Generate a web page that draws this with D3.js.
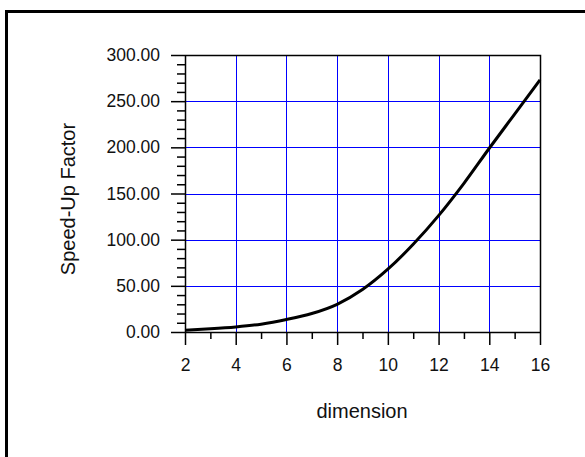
<!DOCTYPE html>
<html>
<head>
<meta charset="utf-8">
<script src="https://cdn.jsdelivr.net/npm/d3@7"></script>
<style>
  body { margin: 0; background: #fff; }
  svg { display: block; }
</style>
</head>
<body>
<svg id="chart" width="585" height="457"></svg>
<script>
// values
const dims = [2, 3, 4, 5, 6, 7, 8, 9, 10, 11, 12, 13, 14, 15, 16];
const speedUp = [2, 3.5, 5.5, 8.5, 13.5, 20, 30, 46, 68, 95, 126, 161, 199, 236, 273];
const xTicks = [2, 4, 6, 8, 10, 12, 14, 16];
const yTicks = [0, 50, 100, 150, 200, 250, 300];

const margin = { left: 185, top: 55, right: 540, bottom: 332 };

const svg = d3.select('#chart')
    .style('font-family', '"Liberation Sans", Arial, sans-serif');

// outer frame, runs off the right and bottom edges
svg.append('rect')
    .attr('x', 6.5).attr('y', 11.5)
    .attr('width', 700).attr('height', 600)
    .attr('fill', 'none')
    .attr('stroke', '#000')
    .attr('stroke-width', 3);

const x = d3.scaleLinear().domain([2, 16]).range([margin.left, margin.right]);
const y = d3.scaleLinear().domain([0, 300]).range([margin.bottom, margin.top]);

// grid
const grid = svg.append('g').attr('stroke', '#0000ff').attr('stroke-width', 1);
grid.selectAll('line.v')
    .data(xTicks.slice(1, -1))
    .join('line')
    .attr('class', 'v')
    .attr('x1', d => Math.round(x(d)) + 0.5).attr('x2', d => Math.round(x(d)) + 0.5)
    .attr('y1', margin.top).attr('y2', margin.bottom);
grid.selectAll('line.h')
    .data(yTicks.slice(1, -1))
    .join('line')
    .attr('class', 'h')
    .attr('y1', d => Math.round(y(d)) + 0.5).attr('y2', d => Math.round(y(d)) + 0.5)
    .attr('x1', margin.left).attr('x2', margin.right);

// frame of plot (top + right)
svg.append('path')
    .attr('d', `M${margin.left},${margin.top + 0.5}H${margin.right + 0.5}V${margin.bottom}`)
    .attr('fill', 'none')
    .attr('stroke', '#000')
    .attr('stroke-width', 1.5);

// minor ticks
const yMinor = d3.range(0, 301, 10).filter(v => v % 50 !== 0);
const xMinor = d3.range(3, 16, 2);

svg.append('g')
    .attr('transform', `translate(${margin.left},0)`)
    .call(d3.axisLeft(y).tickValues(yMinor).tickSize(8).tickFormat(''))
    .call(g => g.select('.domain').remove())
    .selectAll('line').attr('stroke-width', 1.5);

svg.append('g')
    .attr('transform', `translate(0,${margin.bottom})`)
    .call(d3.axisBottom(x).tickValues(xMinor).tickSize(7).tickFormat(''))
    .call(g => g.select('.domain').remove())
    .selectAll('line').attr('stroke-width', 1.5);

// major axes
const yAxis = svg.append('g')
    .attr('transform', `translate(${margin.left},0)`)
    .call(d3.axisLeft(y).tickValues(yTicks).tickSize(14).tickSizeOuter(0)
        .tickPadding(11).tickFormat(d3.format('.2f')));
yAxis.select('.domain').attr('stroke-width', 1.5);
yAxis.selectAll('line').attr('stroke-width', 1.5);
yAxis.selectAll('text').attr('font-size', 17.5).attr('fill', '#111');

const xAxis = svg.append('g')
    .attr('transform', `translate(0,${margin.bottom})`)
    .call(d3.axisBottom(x).tickValues(xTicks).tickSize(13).tickSizeOuter(0)
        .tickPadding(14).tickFormat(d3.format('d')));
xAxis.select('.domain').attr('stroke-width', 1.5);
xAxis.selectAll('line').attr('stroke-width', 1.5);
xAxis.selectAll('text').attr('font-size', 17.5).attr('fill', '#111');

svg.selectAll('.domain, .tick line').attr('stroke', '#000');
svg.selectAll('g').attr('font-family', null);

// curve
const line = d3.line()
    .x((d, i) => x(dims[i]))
    .y(d => y(d))
    .curve(d3.curveMonotoneX);

svg.append('path')
    .datum(speedUp)
    .attr('d', line)
    .attr('fill', 'none')
    .attr('stroke', '#000')
    .attr('stroke-width', 3);

// titles
svg.append('text')
    .attr('x', 362).attr('y', 418)
    .attr('text-anchor', 'middle')
    .attr('font-size', 20)
    .attr('fill', '#111')
    .text('dimension');

svg.append('text')
    .attr('transform', 'translate(75,199) rotate(-90)')
    .attr('text-anchor', 'middle')
    .attr('font-size', 20)
    .attr('fill', '#111')
    .text('Speed-Up Factor');
</script>
</body>
</html>
